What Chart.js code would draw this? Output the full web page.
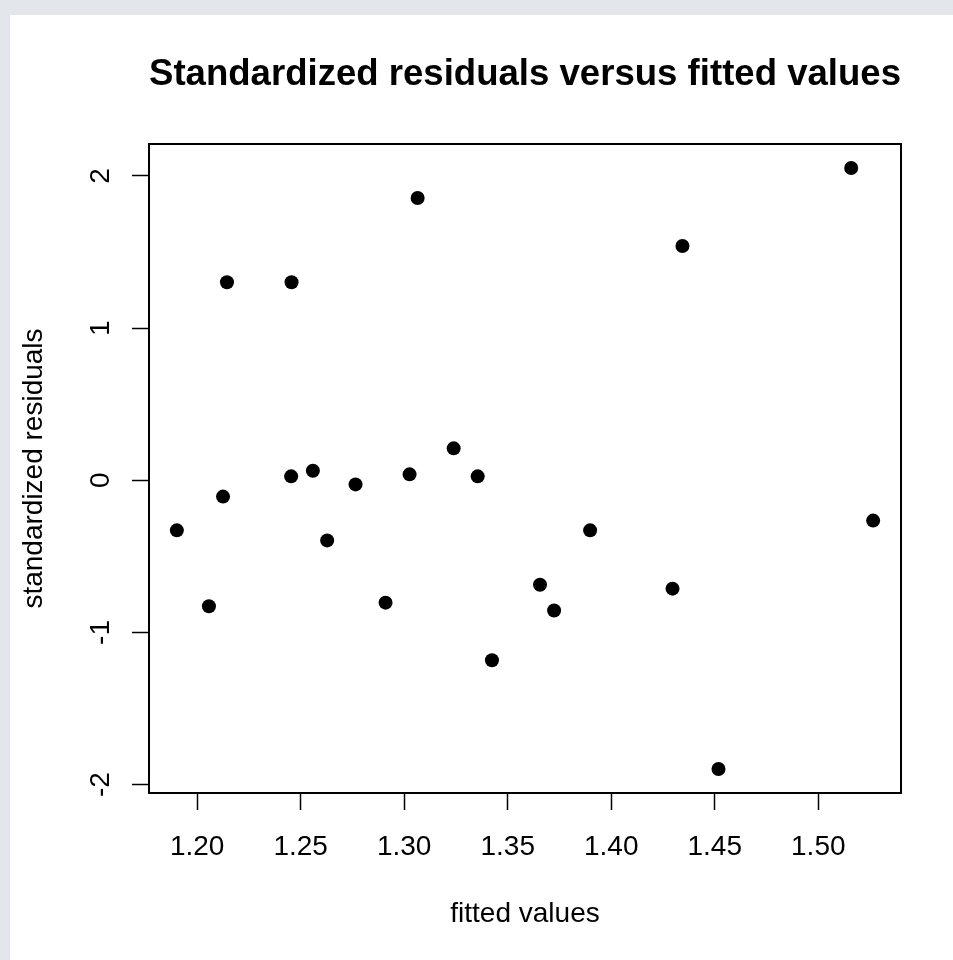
<!DOCTYPE html>
<html>
<head>
<meta charset="utf-8">
<title>Standardized residuals versus fitted values</title>
<script src="https://cdn.jsdelivr.net/npm/chart.js@4.4.1/dist/chart.umd.min.js"></script>
<style>
  html, body { margin: 0; padding: 0; background: #e3e7eb; }
  #wrap { position: absolute; left: 10px; top: 15px; width: 943px; height: 945px; background: #fff; }
  canvas { display: block; }
</style>
</head>
<body>
<div id="wrap"><canvas id="residPlot" width="943" height="945"></canvas></div>
<script>
// model output: fitted value and standardized residual per observation
const fittedValues = [1.1902, 1.2057, 1.2125, 1.2144, 1.2456, 1.2454, 1.2559, 1.2628, 1.2765, 1.2910, 1.3026, 1.3065,
                      1.3239, 1.3355, 1.3424, 1.3656, 1.3724, 1.3898, 1.4296, 1.4344, 1.4518, 1.5159, 1.5265];
const stdResiduals = [-0.329, -0.828, -0.107, 1.301, 1.301, 0.026, 0.063, -0.395, -0.027, -0.804, 0.039, 1.855,
                      0.210, 0.026, -1.183, -0.686, -0.856, -0.329, -0.712, 1.540, -1.897, 2.052, -0.265];

const xTicks = [1.20, 1.25, 1.30, 1.35, 1.40, 1.45, 1.50];
const yTicks = [-2, -1, 0, 1, 2];

const FONT = 'Liberation Sans, Arial, Helvetica, sans-serif';

// pad the data range by 4% on each side
function paddedRange(vals) {
  const lo = Math.min(...vals), hi = Math.max(...vals);
  const d = (hi - lo) * 0.04;
  return [lo - d, hi + d];
}
const [xMin, xMax] = paddedRange(fittedValues);
const [yMin, yMax] = paddedRange(stdResiduals);

const points = fittedValues.map((x, i) => ({ x: x, y: stdResiduals[i] }));

// closed frame around the plot region
const frameBox = {
  id: 'frameBox',
  afterDraw(chart) {
    const { ctx, chartArea: a } = chart;
    ctx.save();
    ctx.strokeStyle = '#000';
    ctx.lineWidth = 2;
    ctx.strokeRect(a.left, a.top, a.right - a.left, a.bottom - a.top);
    ctx.restore();
  }
};

new Chart(document.getElementById('residPlot'), {
  type: 'scatter',
  data: {
    datasets: [{
      data: points,
      backgroundColor: '#000',
      borderWidth: 0,
      pointRadius: 7,
      pointHoverRadius: 7
    }]
  },
  options: {
    responsive: false,
    animation: false,
    devicePixelRatio: 1,
    layout: { padding: { left: 0, top: 0, right: 52, bottom: 0 } },
    plugins: {
      legend: { display: false },
      tooltip: { enabled: false },
      title: {
        display: true,
        fullSize: false,
        text: 'Standardized residuals versus fitted values',
        color: '#000',
        font: { family: FONT, size: 37, weight: 'bold' },
        padding: { top: 38, bottom: 46.6 }
      }
    },
    scales: {
      x: {
        type: 'linear',
        min: xMin,
        max: xMax,
        afterFit: s => { s.height = 167; },
        afterBuildTicks: s => { s.ticks = xTicks.map(v => ({ value: v })); },
        grid: { drawOnChartArea: false, drawTicks: true, tickLength: 17, tickWidth: 1.5, tickColor: '#000' },
        border: { display: false },
        ticks: {
          color: '#000',
          padding: 20,
          maxRotation: 0,
          font: { family: FONT, size: 28 },
          callback: v => v.toFixed(2)
        },
        title: {
          display: true,
          text: 'fitted values',
          color: '#000',
          font: { family: FONT, size: 28 },
          padding: { top: 0, bottom: 29 }
        }
      },
      y: {
        type: 'linear',
        min: yMin,
        max: yMax,
        afterFit: s => { s.width = 139; },
        afterBuildTicks: s => { s.ticks = yTicks.map(v => ({ value: v })); },
        grid: { drawOnChartArea: false, drawTicks: true, tickLength: 17, tickWidth: 1.5, tickColor: '#000' },
        border: { display: false },
        ticks: {
          color: '#000',
          padding: 18,
          minRotation: 90,
          maxRotation: 90,
          crossAlign: 'center',
          font: { family: FONT, size: 28 },
          callback: v => String(v)
        },
        title: {
          display: true,
          text: 'standardized residuals',
          color: '#000',
          font: { family: FONT, size: 28 },
          padding: { top: 7, bottom: 0 }
        }
      }
    }
  },
  plugins: [frameBox]
});
</script>
</body>
</html>
